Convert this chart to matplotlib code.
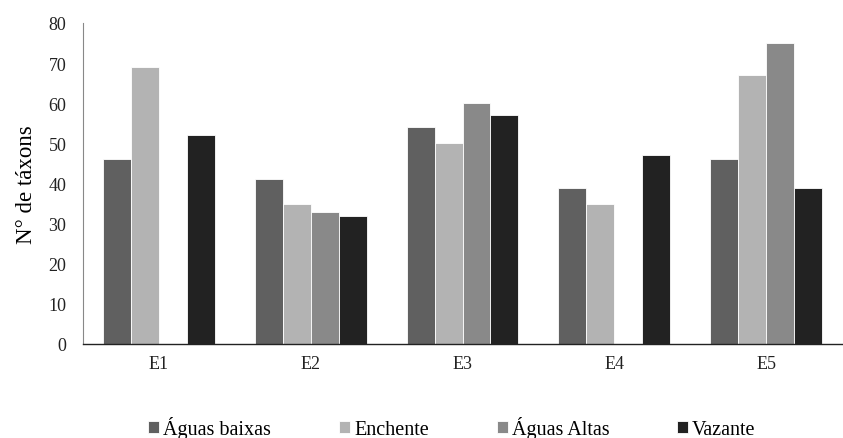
import numpy as np
import matplotlib.pyplot as plt

plt.rcParams['font.family'] = ['Liberation Serif', 'DejaVu Serif']

estacoes = ['E1', 'E2', 'E3', 'E4', 'E5']
series = ['Águas baixas', 'Enchente', 'Águas Altas', 'Vazante']
aguas_baixas = [46, 41, 54, 39, 46]
enchente = [69, 35, 50, 35, 67]
aguas_altas = [0, 33, 60, 0, 75]
vazante = [52, 32, 57, 47, 39]
cores = ['#606060', '#b3b3b3', '#898989', '#222222']

valores = [aguas_baixas, enchente, aguas_altas, vazante]

fig = plt.figure(figsize=(8.43, 4.39), dpi=100)
ax = fig.add_axes([83/843, 1-345/439, 759/843, 321/439])

x = np.arange(len(estacoes))
w = 0.184
for i, (nome, v) in enumerate(zip(series, valores)):
    ax.bar(x + (i - 1.5) * w, v, w, color=cores[i], edgecolor='white',
           linewidth=0.6, label=nome)

ax.set_xlim(-0.5, 4.5)
ax.set_ylim(0, 80)
ax.set_yticks(range(0, 81, 10))
ax.set_xticks(x)
ax.set_xticklabels(estacoes)
ax.tick_params(length=0, labelsize=13, colors='#222222')
ax.tick_params(axis='y', pad=12)
ax.tick_params(axis='x', pad=8)
ax.set_ylabel('N° de táxons', fontsize=16.5, labelpad=8)

for s in ['top', 'right']:
    ax.spines[s].set_visible(False)
ax.spines['left'].set_color('#888888')
ax.spines['bottom'].set_color('#222222')
ax.spines['bottom'].set_linewidth(1.0)

ax.legend(loc='upper center', bbox_to_anchor=(0.486, -0.2), ncol=4,
          frameon=False, fontsize=14.5, handlelength=0.55, handleheight=0.55,
          handletextpad=0.2, columnspacing=3.37, borderaxespad=0)

fig.savefig('out.png', dpi=100)
